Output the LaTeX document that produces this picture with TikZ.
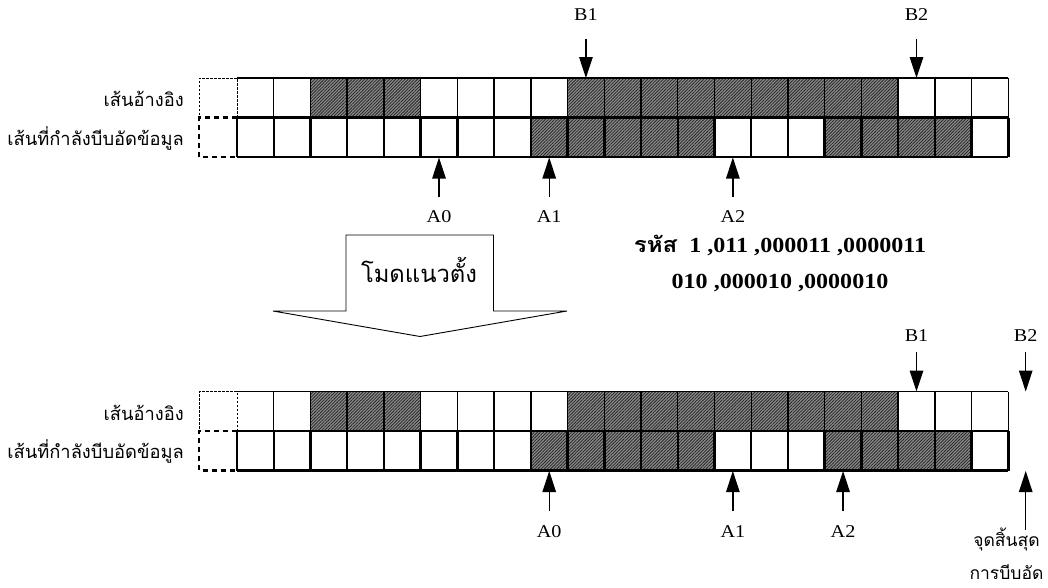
\documentclass[tikz,border=0pt]{standalone}
\usepackage{fontspec}
\setmainfont{Liberation Serif}
\newfontfamily\thai[Script=Thai]{Loma}
\usetikzlibrary{arrows.meta,patterns.meta}
\begin{document}
\begin{tikzpicture}[x=1pt,y=-1pt,
  arr/.style={line width=1.3pt,-{Triangle[length=21pt,width=13.5pt]}},
  lab/.style={font=\fontsize{18}{18}\selectfont,inner sep=0pt},
  thlab/.style={font=\thai\fontsize{18.3}{18.3}\selectfont,inner sep=0pt},
  gcell/.style={fill=black!45,postaction={pattern={Lines[angle=45,distance=2.2pt,line width=0.8pt]},pattern color=black!85}},
  thinline/.style={line width=1.4pt},
  thickline/.style={line width=2.4pt},
  dotbox/.style={line width=1pt,dash pattern=on 2.5pt off 1.5pt},
  dashbox/.style={line width=2.2pt,dash pattern=on 5pt off 4pt}]
\useasboundingbox (0,0) rectangle (1048,587);
\fill[white] (0,0) rectangle (1048,587);
\def\cw{36.73}
\def\xo{237}
\def\xd{199}
\def\rh{39.5}
\newcommand\gridsection[2]{%
  % top row (reference line)
  \foreach \i in {2,3,4,9,10,11,12,13,14,15,16,17}
    \path[gcell] ({\xo+\i*\cw},#1) rectangle ++(\cw,\rh);
  \draw[thinline] (\xo,#1) -- ({\xo+21*\cw},#1);
  \foreach \i in {1,...,21}
    \draw[thinline] ({\xo+\i*\cw},#1) -- ++(0,\rh);
  \draw[dotbox] (\xo,#1+\rh) -- (\xo,#1) -- (\xd,#1) -- (\xd,#1+\rh);
  % bottom row (coding line)
  \foreach \i in {8,9,10,11,12,16,17,18,19}
    \path[gcell] ({\xo+\i*\cw},#1+\rh) rectangle ++(\cw,\rh);
  \draw[thickline] (\xo,#1+\rh) -- ({\xo+21*\cw},#1+\rh);
  \draw[thickline] (\xo,#1+2*\rh) -- ({\xo+21*\cw},#1+2*\rh);
  \foreach \i in {0,...,21}
    \draw[thickline] ({\xo+\i*\cw},#1+\rh) -- ++(0,\rh);
  \draw[dashbox] (\xo,#1+\rh) -- (\xd,#1+\rh) -- (\xd,#1+2*\rh) -- (\xo,#1+2*\rh);
  \node[thlab,anchor=base east] (#2ref) at (184,#1+28.5) {เส้นอ้างอิง};
  \node[thlab,anchor=base east] (#2cod) at (184,#1+67) {เส้นที่กำลังบีบอัดข้อมูล};
}
\gridsection{78}{t}
\gridsection{391.5}{b}
% ---- top section arrows
\foreach \n/\c in {B1/9,B2/18}{
  \node[lab] (t\n) at ({\xo+(\c+0.5)*\cw},15) {\scalebox{1.12}[1]{\n}};
  \coordinate (t\n s) at ({\xo+(\c+0.5)*\cw},38.7);
  \coordinate (t\n e) at ({\xo+(\c+0.5)*\cw},78);
  \draw[arr] (t\n s) -- (t\n e);
}
\foreach \n/\c in {A0/5,A1/8,A2/13}{
  \node[lab] (t\n) at ({\xo+(\c+0.5)*\cw},217) {\scalebox{1.12}[1]{\n}};
  \coordinate (t\n s) at ({\xo+(\c+0.5)*\cw},196.7);
  \coordinate (t\n e) at ({\xo+(\c+0.5)*\cw},157.5);
  \draw[arr] (t\n s) -- (t\n e);
}
% ---- block arrow
\draw[line width=0.9pt] (346,235) -- (493.5,235) -- (493.5,311) -- (567,311) -- (420,336.5) -- (273,311) -- (346,311) -- cycle;
\node[font=\thai\fontsize{23.8}{23.8}\selectfont,inner sep=0pt] (mode) at (419,270) {โมดแนวตั้ง};
% ---- codes
\node[font=\bfseries\fontsize{21.5}{21.5}\selectfont,inner sep=0pt] (code1) at (780,245) {\scalebox{1.12}[1]{{\thai\bfseries รหัส}\ \ 1 ,011 ,000011 ,0000011}};
\node[font=\bfseries\fontsize{21.5}{21.5}\selectfont,inner sep=0pt] (code2) at (780,283) {\scalebox{1.12}[1]{010 ,000010 ,0000010}};
% ---- bottom section arrows
\foreach \n/\x in {B1/916.5,B2/1025.7}{
  \node[lab] (b\n) at (\x,335.5) {\scalebox{1.12}[1]{\n}};
  \coordinate (b\n s) at (\x,351.7);
  \coordinate (b\n e) at (\x,391.5);
  \draw[arr] (b\n s) -- (b\n e);
}
\foreach \n/\c in {A0/8,A1/13,A2/16}{
  \node[lab] (b\n) at ({\xo+(\c+0.5)*\cw},531.5) {\scalebox{1.12}[1]{\n}};
  \coordinate (b\n s) at ({\xo+(\c+0.5)*\cw},511);
  \coordinate (b\n e) at ({\xo+(\c+0.5)*\cw},471);
  \draw[arr] (b\n s) -- (b\n e);
}
\coordinate (ends) at (1025.7,530);
\coordinate (ende) at (1025.7,471);
\draw[arr] (ends) -- (ende);
\node[thlab,anchor=base,font=\thai\fontsize{17.5}{17.5}\selectfont] (end1) at (1006.5,546) {จุดสิ้นสุด};
\node[thlab,anchor=base,font=\thai\fontsize{17.5}{17.5}\selectfont] (end2) at (1006.5,579.5) {การบีบอัด};
\end{tikzpicture}
\end{document}
